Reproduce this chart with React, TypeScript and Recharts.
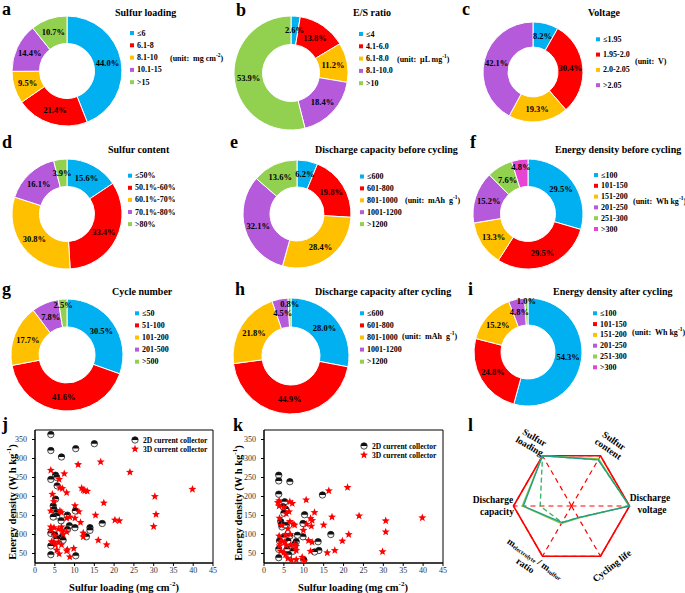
import React from 'react';
import {
  PieChart,
  Pie,
  Cell,
  ScatterChart,
  Scatter,
  XAxis,
  YAxis,
  ReferenceArea,
  RadarChart,
  Radar,
  PolarGrid,
  PolarAngleAxis,
  PolarRadiusAxis,
} from 'recharts';

const FONT = '"Liberation Serif", "Times New Roman", serif';
const COLORS = ['#00B0F0', '#FF0000', '#FFC000', '#B45ADB', '#92D050', '#E645D4'];

// a
const loadingBins = ['≤6', '6.1-8', '8.1-10', '10.1-15', '>15'];
const loadingShare = [44.0, 21.4, 9.5, 14.4, 10.7];
// b
const esBins = ['≤4', '4.1-6.0', '6.1-8.0', '8.1-10.0', '>10'];
const esShare = [2.6, 13.8, 11.2, 18.4, 53.9];
// c
const voltageBins = ['≤1.95', '1.95-2.0', '2.0-2.05', '>2.05'];
const voltageShare = [8.2, 30.4, 19.3, 42.1];
// d
const contentBins = ['≤50%', '50.1%-60%', '60.1%-70%', '70.1%-80%', '>80%'];
const contentShare = [15.6, 33.4, 30.8, 16.1, 3.9];
// e, h
const capacityBins = ['≤600', '601-800', '801-1000', '1001-1200', '>1200'];
const capBeforeShare = [6.2, 19.8, 28.4, 32.1, 13.6];
const capAfterShare = [28.0, 44.9, 21.8, 4.5, 0.8];
// f, i
const energyBins = ['≤100', '101-150', '151-200', '201-250', '251-300', '>300'];
const energyBeforeShare = [29.5, 29.5, 13.3, 15.2, 7.6, 4.8];
const energyAfterShare = [54.3, 24.8, 15.2, 4.8, 1.0, 0];
// g
const cycleBins = ['≤50', '51-100', '101-200', '201-500', '>500'];
const cycleShare = [30.5, 41.6, 17.7, 7.8, 2.5];

// j: energy density vs sulfur loading (before cycling)
const j2dLoading = [4.0, 4.0, 10.3, 15.0, 6.7, 5.2, 5.5, 4.0, 5.6, 5.2, 4.6, 4.8, 5.5, 5.5, 4.6, 8.2, 10.2, 6.6, 8.7, 10.1, 13.9, 13.9, 17.0, 4.0, 5.0, 8.2, 13.0, 6.7, 5.6, 7.1, 4.0, 4.0, 10.3];
const j2dEnergy = [363, 321, 326, 339, 304, 256, 250, 245, 228, 193, 175, 166, 158, 149, 146, 151, 162, 136, 123, 118, 118, 111, 129, 103, 99, 113, 94, 92, 88, 85, 70, 47, 44];
const j3dLoading = [4.0, 7.4, 10.9, 16.6, 24.0, 39.8, 30.3, 30.6, 30.0, 20.2, 21.3, 17.4, 15.3, 16.0, 18.1, 12.6, 11.8, 12.2, 13.2, 10.1, 11.1, 11.5, 12.2, 12.2, 4.4, 4.0, 6.1, 6.9, 6.3, 8.0, 4.8, 6.3, 6.7, 8.0, 8.8, 10.1, 4.0, 4.8, 4.0, 5.9, 6.7, 6.9, 7.1, 8.0, 5.0, 4.2, 4.6, 5.9, 6.7, 5.5, 6.1, 8.0, 8.2, 9.8, 8.8, 5.2];
const j3dEnergy = [269, 260, 284, 291, 264, 219, 200, 153, 121, 138, 136, 183, 151, 85, 73, 215, 222, 217, 214, 176, 160, 132, 104, 94, 206, 162, 245, 221, 223, 210, 187, 162, 158, 143, 146, 143, 120, 118, 111, 114, 120, 110, 101, 107, 97, 81, 80, 80, 73, 59, 49, 57, 60, 63, 41, 73];

// k: energy density vs sulfur loading (after cycling)
const k2dLoading = [3.7, 3.7, 6.5, 3.7, 14.7, 5.2, 5.4, 5.0, 4.8, 4.2, 4.4, 4.5, 5.6, 10.2, 9.8, 9.8, 8.4, 8.1, 7.7, 6.5, 6.0, 4.8, 3.9, 3.7, 3.7, 7.3, 5.8, 16.8, 13.6, 13.8, 12.7, 10.0, 6.2];
const k2dEnergy = [256, 241, 239, 206, 204, 186, 167, 156, 173, 134, 127, 120, 124, 152, 129, 94, 98, 81, 74, 96, 83, 92, 83, 61, 39, 56, 61, 100, 81, 58, 54, 33, 47];
const k3dLoading = [3.8, 3.5, 3.8, 6.5, 7.1, 5.0, 6.3, 5.6, 10.6, 16.3, 21.0, 12.7, 17.1, 23.9, 39.8, 30.6, 30.6, 29.8, 21.3, 19.7, 17.8, 15.9, 15.0, 11.7, 12.1, 10.7, 11.9, 9.9, 11.2, 12.1, 11.7, 3.9, 4.4, 6.5, 7.3, 7.7, 6.0, 6.6, 3.8, 5.4, 4.5, 4.1, 5.2, 3.9, 5.6, 6.7, 7.7, 8.1, 4.2, 5.0, 5.4, 6.0, 6.9, 8.1, 9.6, 10.1, 8.1];
const k3dEnergy = [189, 184, 175, 186, 182, 171, 160, 155, 191, 215, 224, 158, 146, 149, 144, 136, 107, 55, 100, 83, 58, 52, 125, 142, 137, 127, 122, 111, 84, 80, 56, 143, 124, 134, 127, 125, 115, 100, 96, 100, 83, 80, 80, 70, 71, 71, 74, 58, 56, 53, 47, 37, 33, 34, 40, 30, 69];

const xTicks = [0, 5, 10, 15, 20, 25, 30, 35, 40, 45];
const yTicks = [50, 100, 150, 200, 250, 300, 350];

// l
const radarAxes = ['Sulfur loading', 'Sulfur content', 'Discharge voltage', 'Cycling life', 'ratio', 'Discharge capacity'];
const radarMax = [1, 1, 1, 1, 1, 1];
const radarTeal = [1.0, 0.92, 1.0, 0.23, 0.33, 0.83];
const radarGreen = [1.0, 0.94, 0.99, 0.24, 0.35, 0.85];
const radarDashed = [1.0, 0.92, 1.0, 0.23, 0.33, 0.54];

// label radius factor overrides (slice index -> fraction of outer radius)
const donuts = [
  { letter: 'a', lx: 2, ly: 15, title: 'Sulfur loading', bins: loadingBins, share: loadingShare, unit: ['mg cm', '-2'], ox: 0, oy: 0, cx: 62, cy: 66, r: 55, tx: 115, ty: 12, gx: 132, gy: 33, gs: 12.3, ux: 170, uy: 58, lr: {} },
  { letter: 'b', lx: 236, ly: 16, title: 'E/S ratio', bins: esBins, share: esShare, unit: ['μL mg', '-1'], ox: 228, oy: 0, cx: 286, cy: 68, r: 57, tx: 353, ty: 12, gx: 361, gy: 34, gs: 12.3, ux: 397, uy: 59, lr: {} },
  { letter: 'c', lx: 462, ly: 15, title: 'Voltage', bins: voltageBins, share: voltageShare, unit: ['V', ''], ox: 457, oy: 0, cx: 528, cy: 67, r: 50, tx: 588, ty: 12, gx: 598, gy: 39.3, gs: 15.3, ux: 635, uy: 61, lr: {} },
  { letter: 'd', lx: 2, ly: 148, title: 'Sulfur content', bins: contentBins, share: contentShare, unit: null, ox: 0, oy: 135, cx: 62, cy: 209, r: 55, tx: 108, ty: 149, gx: 130, gy: 175.7, gs: 12.1, ux: 0, uy: 0, clip: 175, lr: {} },
  { letter: 'e', lx: 230, ly: 148, title: 'Discharge capacity before cycling', bins: capacityBins, share: capBeforeShare, unit: ['mAh\u00A0 g', '-1'], ox: 228, oy: 135, cx: 292, cy: 209, r: 54, tx: 315, ty: 149, gx: 362, gy: 176.5, gs: 11.9, ux: 405, uy: 200, lr: {} },
  { letter: 'f', lx: 470, ly: 148, title: 'Energy density before cycling', bins: energyBins, share: energyBeforeShare, unit: ['Wh kg', '-1'], ox: 457, oy: 135, cx: 523, cy: 209, r: 55, tx: 555, ty: 149, gx: 596, gy: 175, gs: 10.8, ux: 633, uy: 201, lr: { 4: 0.72, 5: 0.86 } },
  { letter: 'g', lx: 2, ly: 295, title: 'Cycle number', bins: cycleBins, share: cycleShare, unit: null, ox: 0, oy: 278, cx: 62, cy: 350, r: 56, tx: 112, ty: 291, gx: 137, gy: 313.3, gs: 12.1, ux: 0, uy: 0, lr: { 3: 0.74, 4: 0.89 } },
  { letter: 'h', lx: 235, ly: 295, title: 'Discharge capacity after cycling', bins: capacityBins, share: capAfterShare, unit: ['mAh\u00A0 g', '-1'], ox: 228, oy: 278, cx: 286, cy: 351, r: 58, tx: 315, ty: 291, gx: 362, gy: 313.3, gs: 12.1, ux: 402, uy: 336, lr: { 4: 0.9 } },
  { letter: 'i', lx: 468, ly: 295, title: 'Energy density after cycling', bins: energyBins, share: energyAfterShare, unit: ['Wh kg', '-1'], ox: 457, oy: 278, cx: 523, cy: 347, r: 54, tx: 553, ty: 291, gx: 595, gy: 313.3, gs: 10.8, ux: 632, uy: 332, lr: { 4: 0.95 } },
];

const RAD = Math.PI / 180;

function makeLabel(lr: Record<number, number>) {
  return (props: any) => {
    const { cx, cy, midAngle, innerRadius, outerRadius, value, index } = props;
    if (!value) return null;
    const rr = lr[index] != null ? outerRadius * lr[index] : (innerRadius + outerRadius) / 2;
    const x = cx + rr * Math.cos(-midAngle * RAD);
    const y = cy + rr * Math.sin(-midAngle * RAD);
    return (
      <text x={x} y={y} textAnchor="middle" dominantBaseline="central" fontFamily={FONT} fontWeight="bold" fontSize={8.5} fill="#000">
        {value.toFixed(1)}%
      </text>
    );
  };
}

function HalfDot(props: any) {
  const { cx, cy } = props;
  const r = 3.2;
  return (
    <g>
      <circle cx={cx} cy={cy} r={r} fill="#f4f4f4" stroke="#222" strokeWidth={0.8} />
      <path d={`M${cx - r},${cy} A${r},${r} 0 0 1 ${cx + r},${cy} Z`} fill="#111" />
    </g>
  );
}

function Star(props: any) {
  const { cx, cy } = props;
  const pts: string[] = [];
  for (let k = 0; k < 10; k++) {
    const rr = k % 2 === 0 ? 4.2 : 1.8;
    const a = -Math.PI / 2 + (k * Math.PI) / 5;
    pts.push(`${cx + rr * Math.cos(a)},${cy + rr * Math.sin(a)}`);
  }
  return <polygon points={pts.join(' ')} fill="#FF0000" />;
}

const tickStyle = { fontFamily: FONT, fontSize: 8, fill: '#333' };

function ScatterPanel({ left, width, xs2, ys2, xs3, ys3 }: any) {
  const pts2 = xs2.map((x: number, i: number) => ({ x, y: ys2[i] }));
  const pts3 = xs3.map((x: number, i: number) => ({ x, y: ys3[i] }));
  return (
    <div style={{ position: 'absolute', left, top: 415 }}>
      <ScatterChart width={width} height={178} margin={{ top: 15, right: 17, bottom: 0, left: 0 }}>
        <XAxis type="number" dataKey="x" domain={[0, 45]} ticks={xTicks} height={30} tick={tickStyle} tickSize={3} tickMargin={1} axisLine={{ stroke: '#000' }} tickLine={{ stroke: '#000' }} allowDataOverflow />
        <YAxis type="number" dataKey="y" domain={[25, 375]} ticks={yTicks} width={35} tick={tickStyle} tickSize={3} tickMargin={5} axisLine={{ stroke: '#000' }} tickLine={{ stroke: '#000' }} allowDataOverflow />
        <ReferenceArea x1={0} x2={45} y1={25} y2={375} fill="none" stroke="#000" strokeWidth={1} />
        <Scatter data={pts2} shape={HalfDot} isAnimationActive={false} />
        <Scatter data={pts3} shape={Star} isAnimationActive={false} />
      </ScatterChart>
    </div>
  );
}

function Unit({ x, y, u }: any) {
  return (
    <text x={x} y={y} dominantBaseline="central" fontSize={8} fontWeight="bold">
      <tspan>{`(unit:\u00A0 ${u[0]}`}</tspan>
      {u[1] ? <tspan dy={-3} fontSize={5.5}>{u[1]}</tspan> : null}
      <tspan dy={u[1] ? 3 : 0}>)</tspan>
    </text>
  );
}

export default function App() {
  const radarData = radarAxes.map((a, i) => ({
    axis: a,
    max: radarMax[i],
    teal: radarTeal[i],
    green: radarGreen[i],
    dashed: radarDashed[i],
  }));

  return (
    <div style={{ position: 'absolute', left: 0, top: 0, width: 685, height: 593, background: '#fff', overflow: 'hidden' }}>
      {donuts.map((p) => (
        <div key={p.letter} style={{ position: 'absolute', left: p.ox, top: p.oy }}>
          <PieChart width={228} height={140}>
            <Pie
              data={p.bins.map((b, i) => ({ name: b, value: p.share[i] }))}
              dataKey="value"
              cx={p.cx - p.ox}
              cy={p.cy - p.oy}
              innerRadius={p.r * 0.5}
              outerRadius={p.r}
              startAngle={90}
              endAngle={-270}
              stroke="#fff"
              strokeWidth={1}
              label={makeLabel(p.lr as Record<number, number>)}
              labelLine={false}
              isAnimationActive={false}
            >
              {p.bins.map((b, i) => (
                <Cell key={b} fill={COLORS[i]} />
              ))}
            </Pie>
          </PieChart>
        </div>
      ))}

      <ScatterPanel left={0} width={230} xs2={j2dLoading} ys2={j2dEnergy} xs3={j3dLoading} ys3={j3dEnergy} />
      <ScatterPanel left={229} width={231} xs2={k2dLoading} ys2={k2dEnergy} xs3={k3dLoading} ys3={k3dEnergy} />

      <div style={{ position: 'absolute', left: 455, top: 415 }}>
        <RadarChart width={230} height={178} cx={116.5} cy={91} outerRadius={58} startAngle={120} endAngle={-240} data={radarData}>
          <PolarGrid gridType="polygon" polarRadius={[58]} stroke="#FF0000" strokeDasharray="5 4" strokeWidth={1.2} />
          <PolarAngleAxis dataKey="axis" tick={false} axisLine={false} tickLine={false} />
          <PolarRadiusAxis domain={[0, 1]} tick={false} axisLine={false} tickLine={false} />
          <Radar dataKey="max" stroke="#FF0000" strokeWidth={1.6} fill="none" fillOpacity={0} dot={false} isAnimationActive={false} />
          <Radar dataKey="dashed" stroke="#3DB36B" strokeWidth={1.4} strokeDasharray="5 3" fill="none" fillOpacity={0} dot={false} isAnimationActive={false} />
          <Radar dataKey="green" stroke="#86C440" strokeWidth={1.3} fill="none" fillOpacity={0} dot={false} isAnimationActive={false} />
          <Radar dataKey="teal" stroke="#1E9C8A" strokeWidth={1.3} fill="none" fillOpacity={0} dot={false} isAnimationActive={false} />
        </RadarChart>
      </div>

      <svg width={685} height={593} style={{ position: 'absolute', left: 0, top: 0, pointerEvents: 'none' }} fontFamily={FONT} fill="#000">
        <defs>
          <clipPath id="clipD">
            <rect x={0} y={135} width={175} height={140} />
          </clipPath>
        </defs>

        {donuts.map((p) => (
          <g key={p.letter}>
            <text x={p.lx} y={p.ly} fontSize={18} fontWeight="bold">{p.letter}</text>
            <text x={p.tx} y={p.ty} fontSize={10} fontWeight="bold" dominantBaseline="central">{p.title}</text>
            <g clipPath={p.clip ? 'url(#clipD)' : undefined}>
              {p.bins.map((b, i) => (
                <g key={b}>
                  <rect x={p.gx - 2} y={p.gy + i * p.gs - 2} width={4} height={4} fill={COLORS[i]} />
                  <text x={p.gx + 5} y={p.gy + i * p.gs} fontSize={8} fontWeight="bold" dominantBaseline="central">{b}</text>
                </g>
              ))}
            </g>
            {p.unit ? <Unit x={p.ux} y={p.uy} u={p.unit} /> : null}
          </g>
        ))}

        {/* j / k / l letters */}
        <text x={2} y={430} fontSize={18} fontWeight="bold">j</text>
        <text x={233} y={431} fontSize={18} fontWeight="bold">k</text>
        <text x={468} y={431} fontSize={18} fontWeight="bold">l</text>

        {/* scatter axis titles */}
        {[12, 238].map((x) => (
          <text key={x} transform={`translate(${x},${x < 100 ? 502 : 503}) rotate(-90)`} textAnchor="middle" dominantBaseline="central" fontSize={10.5} fontWeight="bold">
            <tspan>Energy density (W h kg</tspan>
            <tspan dy={-3.5} fontSize={7}>-1</tspan>
            <tspan dy={3.5}>)</tspan>
          </text>
        ))}
        {[124, 353].map((x) => (
          <text key={x} x={x} y={587} textAnchor="middle" dominantBaseline="central" fontSize={10.5} fontWeight="bold">
            <tspan>Sulfur loading (mg cm</tspan>
            <tspan dy={-3.5} fontSize={7}>-2</tspan>
            <tspan dy={3.5}>)</tspan>
          </text>
        ))}

        {/* scatter legends */}
        {[
          { sx: 135, sy: 440 },
          { sx: 364, sy: 446 },
        ].map((l) => (
          <g key={l.sx}>
            <HalfDot cx={l.sx} cy={l.sy} />
            <text x={l.sx + 8} y={l.sy} fontSize={7.5} fontWeight="bold" dominantBaseline="central">2D current collector</text>
            <Star cx={l.sx} cy={l.sy + 9} />
            <text x={l.sx + 8} y={l.sy + 9} fontSize={7.5} fontWeight="bold" dominantBaseline="central">3D current collector</text>
          </g>
        ))}

        {/* radar labels */}
        <g fontSize={9.5} fontWeight="bold" textAnchor="middle" dominantBaseline="central">
          <g transform="translate(532,442) rotate(30)">
            <text x={0} y={-5}>Sulfur</text>
            <text x={0} y={5}>loading</text>
          </g>
          <g transform="translate(611,445) rotate(35)">
            <text x={0} y={-5}>Sulfur</text>
            <text x={0} y={5}>content</text>
          </g>
          <text x={650} y={498}>Discharge</text>
          <text x={652} y={510}>voltage</text>
          <text x={493} y={500}>Discharge</text>
          <text x={497} y={512}>capacity</text>
          <text transform="translate(612,566) rotate(-38)">Cycling life</text>
          <g transform="translate(532,563) rotate(35)">
            <text x={0} y={-5}>
              <tspan>m</tspan>
              <tspan fontSize={6} dy={2}>electrolyte</tspan>
              <tspan dy={-2}> / m</tspan>
              <tspan fontSize={6} dy={2}>sulfur</tspan>
            </text>
            <text x={-4} y={6}>ratio</text>
          </g>
        </g>
      </svg>
    </div>
  );
}
